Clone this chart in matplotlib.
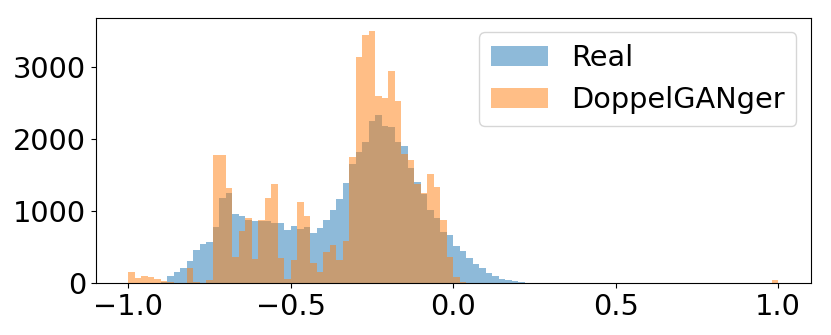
import numpy as np
import matplotlib
matplotlib.use("Agg")
import matplotlib.pyplot as plt

# 100 bins of width 0.02 from -1 to 1
bin_edges = np.linspace(-1.0, 1.0, 101)

real_counts = [0, 3, 5, 8, 12, 25, 100, 152, 216, 313,
               465, 548, 576, 783, 1184, 1253, 958, 940, 875, 862,
               862, 862, 843, 834, 747, 797, 751, 783, 696, 765,
               880, 1023, 1166, 1387, 1655, 1820, 1964, 2245, 2337, 2189,
               2171, 1964, 1909, 1604, 1411, 1235, 1023, 903, 719, 668,
               516, 447, 346, 276, 207, 147, 106, 60, 46, 32,
               14, 8, 5, 3, 2, 1, 0, 0, 0, 0] + [0] * 30

gan_counts = [160, 78, 105, 92, 60, 32, 15, 10, 5, 216,
              25, 10, 41, 1785, 1785, 1328, 360, 723, 903, 332,
              885, 1184, 1383, 350, 55, 322, 1124, 940, 281, 161,
              433, 532, 330, 590, 1747, 3140, 3448, 3503, 2600, 2572,
              2950, 2526, 1798, 1705, 1383, 1258, 1512, 1342, 885, 368,
              90, 22, 8] + [0] * 46 + [50]

centers = (bin_edges[:-1] + bin_edges[1:]) / 2

fig = plt.figure(figsize=(8.31, 3.35), dpi=100)
ax = fig.add_axes([0.1155, 0.154, 0.86, 0.792])

ax.hist(centers, bins=bin_edges, weights=real_counts, alpha=0.5, label="Real")
ax.hist(centers, bins=bin_edges, weights=gan_counts, alpha=0.5, label="DoppelGANger")

ax.tick_params(labelsize=20.7)
ax.set_xticks([-1.0, -0.5, 0.0, 0.5, 1.0])
ax.set_yticks([0, 1000, 2000, 3000])
ax.legend(loc="upper right", fontsize=20.7)

fig.savefig("out.png", dpi=100)
